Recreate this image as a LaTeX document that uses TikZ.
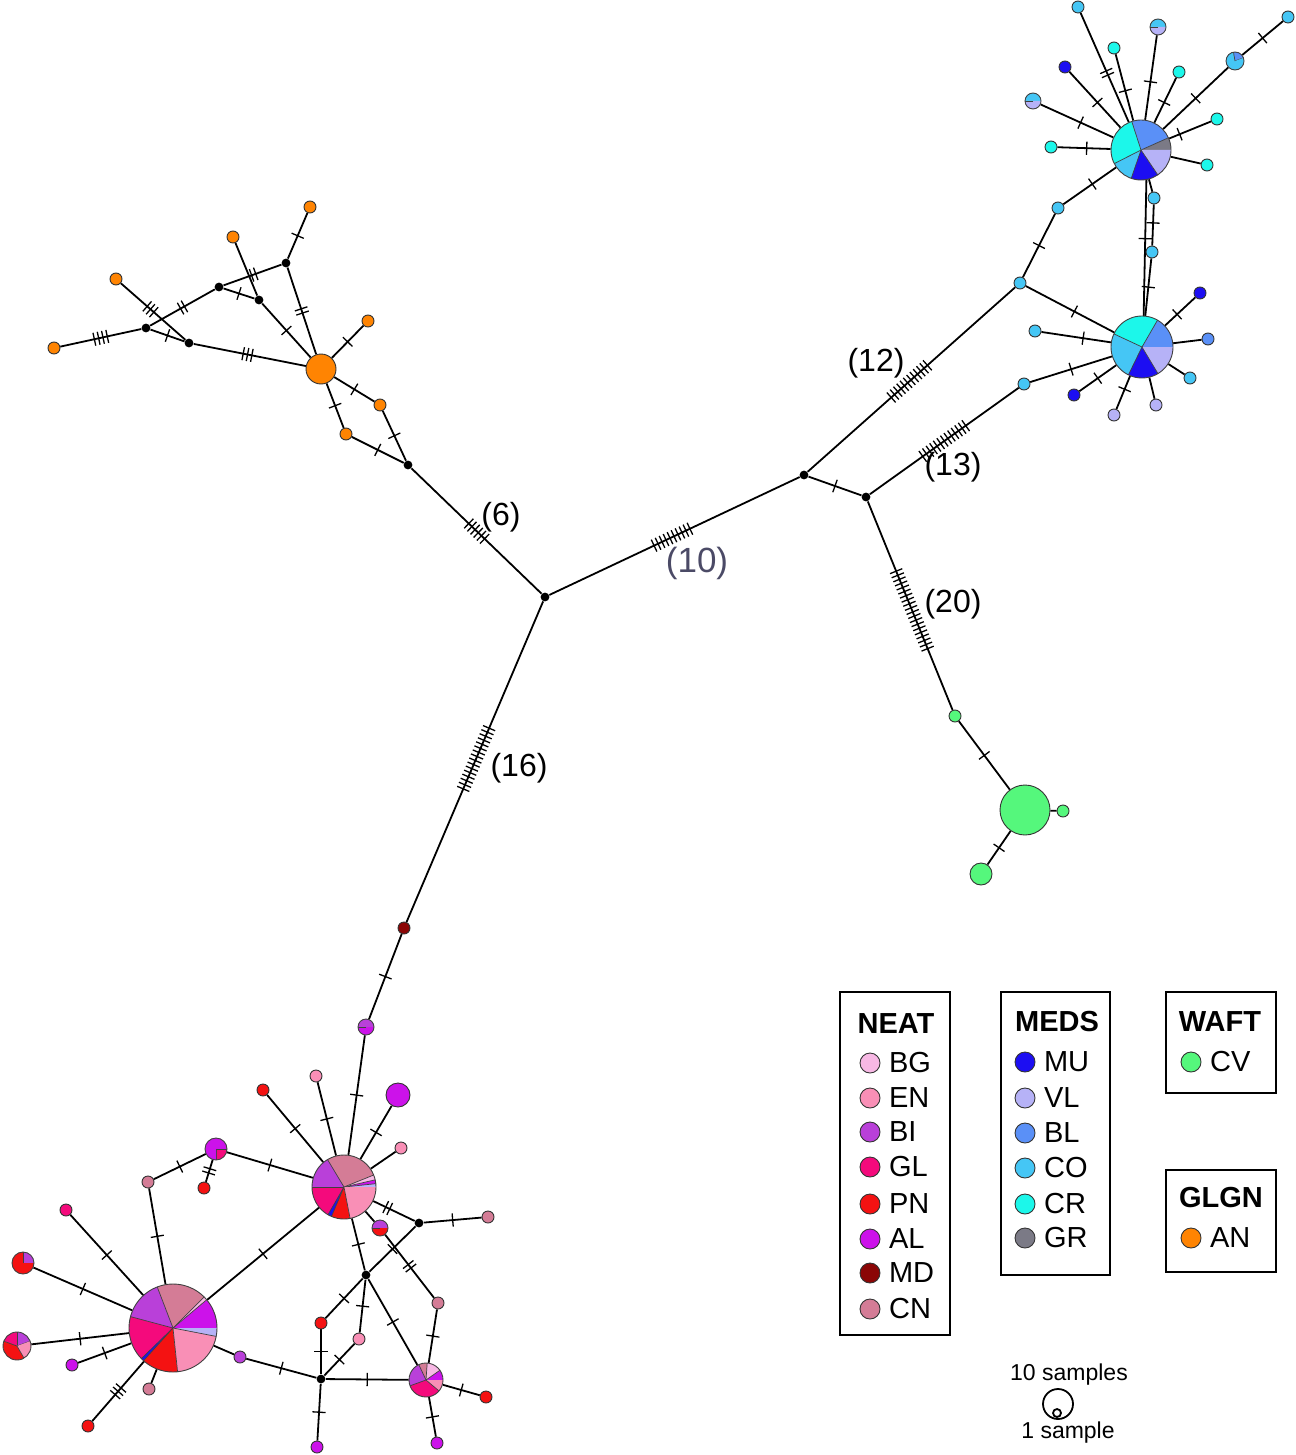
\documentclass[tikz,border=0pt]{standalone}
\usepackage{fontspec}
\setmainfont{Liberation Sans}
\usetikzlibrary{decorations.markings,backgrounds}
\definecolor{BG}{HTML}{F7B8E4}\definecolor{EN}{HTML}{F98FB6}\definecolor{BI}{HTML}{B940D9}
\definecolor{GL}{HTML}{F40A7C}\definecolor{PN}{HTML}{F41212}\definecolor{AL}{HTML}{CC12EA}
\definecolor{MD}{HTML}{8B0606}\definecolor{CN}{HTML}{D47C96}
\definecolor{MU}{HTML}{1C0EF2}\definecolor{VL}{HTML}{B6B2F7}\definecolor{BL}{HTML}{5A90F7}
\definecolor{CO}{HTML}{45C6F5}\definecolor{CR}{HTML}{1CF7EA}\definecolor{GR}{HTML}{7B7A86}
\definecolor{CV}{HTML}{55F77C}\definecolor{AN}{HTML}{FF8402}\definecolor{labten}{HTML}{4B4A66}
\newcommand\piech[3]{\foreach \a/\b/\c in {#3}{\fill[\c] (#1.center) -- ++(\a:#2) arc[start angle=\a,end angle=\b,radius=#2] -- cycle; \draw[line width=0.35pt,black!75] (#1.center) -- ++(\a:#2);}\draw[line width=0.45pt,black!75] (#1.center) circle[radius=#2];}
\newcommand\E[4]{\draw[edge,tk={#3}{#4}] (#1) -- (#2);}
\newcommand\F[2]{\draw[edge] (#1) -- (#2);}
\begin{document}
\begin{tikzpicture}[x=0.5pt,y=-0.5pt,
 hap/.style={circle,draw=black!80,line width=0.45pt,inner sep=0pt,minimum size=6pt,fill=#1},
 pienode/.style={circle,inner sep=0pt,minimum size=#1},
 jn/.style={circle,fill=black,inner sep=0pt,minimum size=4.4pt},
 edge/.style={line width=0.9pt},
 tk/.style 2 args={postaction={decorate,decoration={markings,mark=at position #1 with {\foreach \k in {1,...,#2}{\draw[line width=0.65pt] ({(\k-(#2+1)/2)*2.2pt},-3.3pt) -- ++(0,6.6pt);}}}}},
 lab/.style={font=\fontsize{16}{19}\selectfont},
 leg/.style={font=\fontsize{14.5}{16}\selectfont,anchor=west},
 legt/.style={font=\bfseries\fontsize{14.5}{16}\selectfont},
 box/.style={draw,line width=1.2pt}]
\useasboundingbox (0,0) rectangle (1295,1455);
\node[jn] (J1) at (545,597) {}; \node[jn] (J2) at (804,475) {}; \node[jn] (J3) at (866,497) {};
\node[jn] (b6) at (408,465) {};
\node[hap=AN,minimum size=15pt] (O) at (321,369) {};
\node[hap=AN] (o1) at (310,207) {}; \node[hap=AN] (o2) at (233,237) {}; \node[hap=AN] (o3) at (116,279) {};
\node[hap=AN] (o4) at (54,348) {}; \node[hap=AN] (o5) at (368,321) {}; \node[hap=AN] (o6) at (380,405) {};
\node[hap=AN] (o7) at (346,434) {};
\node[jn] (b1) at (286,263) {}; \node[jn] (b2) at (219,287) {}; \node[jn] (b3) at (259,300) {};
\node[jn] (b4) at (146,328) {}; \node[jn] (b5) at (189,343) {};
\node[hap=CO] (c1) at (1024,384) {}; \node[hap=CO] (c2) at (1020,283) {}; \node[hap=CO] (c3) at (1058,208) {};
\node[hap=CO] (c4) at (1154,198) {}; \node[hap=CO] (c5) at (1152,252) {};
\node[pienode=30pt] (H1) at (1141,150) {}; \node[pienode=31pt] (H2) at (1142,347) {};
\node[hap=CO] (t1) at (1078,7) {}; \node[hap=CR] (t2) at (1114,48) {}; \node[hap=MU] (t3) at (1065,67) {};
\node[pienode=8pt] (t4) at (1033,101) {}; \node[hap=CR] (t5) at (1051,147) {};
\node[pienode=8pt] (t6) at (1158,27) {}; \node[hap=CR] (t7) at (1179,72) {};
\node[pienode=9pt] (t8) at (1235,61) {}; \node[hap=CO] (t9) at (1288,17) {};
\node[hap=CR] (t10) at (1217,119) {}; \node[hap=CR] (t11) at (1207,165) {};
\node[hap=MU] (s1) at (1200,293) {}; \node[hap=BL] (s2) at (1208,339) {}; \node[hap=CO] (s3) at (1035,331) {};
\node[hap=MU] (s4) at (1074,395) {}; \node[hap=VL] (s5) at (1114,415) {}; \node[hap=VL] (s6) at (1156,405) {};
\node[hap=CO] (s7) at (1190,378) {};
\node[hap=CV] (g1) at (955,716) {}; \node[hap=CV,minimum size=25pt] (G) at (1025,810) {};
\node[hap=CV] (g2) at (1063,811) {}; \node[hap=CV,minimum size=11pt] (g3) at (981,874) {};
\node[hap=MD] (md) at (404,928) {}; \node[pienode=8pt] (al1) at (366,1027) {};
\node[pienode=32pt] (P1) at (344,1187) {}; \node[pienode=44pt] (P2) at (173,1328) {};
\node[pienode=17pt] (P3) at (426,1380) {};
\node[hap=PN] (n1) at (263,1090) {}; \node[hap=EN] (n2) at (316,1076) {};
\node[hap=AL,minimum size=12pt] (n3) at (398,1095) {}; \node[hap=EN] (n4) at (401,1148) {};
\node[jn] (k1) at (419,1223) {}; \node[hap=CN] (n5) at (488,1217) {};
\node[pienode=8pt] (hc) at (380,1228) {}; \node[hap=CN] (n6) at (438,1303) {};
\node[jn] (k2) at (366,1275) {}; \node[hap=PN] (n7) at (321,1323) {}; \node[hap=EN] (n8) at (359,1339) {};
\node[jn] (k3) at (321,1379) {}; \node[hap=AL] (n9) at (317,1447) {}; \node[hap=BI] (n10) at (240,1357) {};
\node[hap=PN] (n11) at (486,1397) {}; \node[hap=AL] (n12) at (437,1443) {};
\node[hap=CN] (n13) at (148,1182) {}; \node[pienode=11pt] (q1) at (216,1149) {};
\node[hap=PN] (n14) at (204,1188) {}; \node[hap=GL] (n15) at (66,1210) {};
\node[pienode=11pt] (q2) at (23,1263) {}; \node[pienode=14pt] (q3) at (17,1346) {};
\node[hap=AL] (n16) at (72,1365) {}; \node[hap=CN] (n17) at (149,1389) {}; \node[hap=PN] (n18) at (88,1426) {};
\begin{pgfonlayer}{background}
\E{J1}{b6}{.5}{6} \E{b6}{o6}{.5}{1} \E{b6}{o7}{.5}{1} \E{o6}{O}{.5}{1} \E{o7}{O}{.5}{1}
\E{O}{o5}{.5}{1} \E{O}{b1}{.5}{2} \E{b1}{o1}{.5}{1} \E{b1}{b2}{.48}{2} \E{b2}{b3}{.5}{1}
\F{o2}{b3} \E{b3}{O}{.5}{1} \E{b2}{b4}{.5}{2} \E{b4}{o4}{.5}{4} \E{b4}{b5}{.5}{1}
\E{o3}{b5}{.46}{3} \E{b5}{O}{.48}{3}
\E{J1}{J2}{.49}{10} \E{J2}{J3}{.5}{1} \E{J3}{c1}{.5}{13} \E{J2}{c2}{.49}{12}
\E{c2}{c3}{.5}{1} \E{c3}{H1}{.55}{1} \E{c2}{H2}{.55}{1} \E{H2}{c1}{.5}{1}
\F{H1}{c4} \E{c4}{c5}{.45}{1} \E{c5}{H2}{.5}{1}
\draw[edge,tk={.45}{1}] ([xshift=3pt]H1.center) -- ([xshift=0.5pt]H2.center);
\E{t1}{H1}{.55}{2} \E{t2}{H1}{.55}{1} \E{t3}{H1}{.55}{1} \E{t4}{H1}{.55}{1} \E{t5}{H1}{.55}{1}
\E{t6}{H1}{.55}{1} \E{t7}{H1}{.55}{1} \E{t8}{H1}{.5}{1} \E{t9}{t8}{.5}{1} \E{t10}{H1}{.75}{1} \F{t11}{H1}
\E{s1}{H2}{.6}{1} \F{s2}{H2} \E{s3}{H2}{.6}{1} \E{s4}{H2}{.5}{1} \E{s5}{H2}{.6}{1} \F{s6}{H2} \F{s7}{H2}
\E{J3}{g1}{.52}{20} \E{g1}{G}{.5}{1} \F{G}{g2} \E{G}{g3}{.5}{1}
\E{J1}{md}{.49}{16} \E{md}{al1}{.5}{1} \E{al1}{P1}{.5}{1}
\E{P1}{n1}{.5}{1} \E{P1}{n2}{.5}{1} \E{P1}{n3}{.5}{1} \F{P1}{n4} \E{P1}{k1}{.35}{2} \E{k1}{n5}{.5}{1}
\F{P1}{hc} \E{hc}{n6}{.5}{2} \E{P1}{k2}{.5}{1} \E{k2}{k1}{.5}{1} \E{k2}{n7}{.5}{1} \E{k2}{n8}{.5}{1}
\E{k2}{P3}{.5}{1} \E{n7}{k3}{.5}{1} \E{n8}{k3}{.5}{1} \E{k3}{P3}{.5}{1} \E{k3}{n9}{.5}{1} \E{k3}{n10}{.5}{1}
\E{n6}{P3}{.5}{1} \E{P3}{n11}{.5}{1} \E{P3}{n12}{.5}{1}
\E{P2}{P1}{.5}{1} \F{P2}{n10} \E{P2}{n13}{.5}{1} \E{n13}{q1}{.5}{1} \E{q1}{P1}{.5}{1} \E{q1}{n14}{.5}{2}
\E{P2}{n15}{.5}{1} \E{P2}{q2}{.5}{1} \E{P2}{q3}{.5}{1} \E{P2}{n16}{.5}{1} \F{P2}{n17} \E{P2}{n18}{.5}{3}
\end{pgfonlayer}
\piech{H1}{15pt}{0/24/GR,24/108/BL,108/207/CR,207/251/CO,251/304/MU,304/360/VL}
\piech{H2}{15.5pt}{0/60/BL,60/155/CR,155/244/CO,244/301/MU,301/360/VL}
\piech{t4}{4pt}{0/180/CO,180/360/VL}
\piech{t6}{4pt}{0/180/CO,180/360/VL}
\piech{t8}{4.5pt}{20/100/BL,100/380/CO}
\piech{al1}{4pt}{0/180/BI,180/360/AL}
\piech{hc}{4pt}{0/180/BI,180/360/PN}
\piech{q1}{5.5pt}{-90/0/GL,0/270/AL}
\piech{q2}{5.5pt}{0/90/BI,90/360/PN}
\piech{q3}{7pt}{20/90/BI,90/160/GL,160/300/PN,300/380/EN}
\piech{P1}{16pt}{0/6/VL,6/13/AL,13/22/BG,22/121/CN,121/180/BI,180/240/GL,240/247/MU,247/281/PN,281/360/EN}
\piech{P2}{22pt}{0/40/AL,40/45/BG,45/111/CN,111/165/BI,165/224/GL,224/228/MU,228/276/PN,276/349/EN,349/360/VL}
\piech{P3}{8.5pt}{0/35/AL,35/86/BG,86/115/CN,115/200/BI,200/320/GL,320/360/EN}
\node[lab] (l6) at (501,517) {(6)};
\node[lab,text=labten,font=\fontsize{17.5}{20}\selectfont] (l10) at (697,563) {(10)};
\node[lab] (l12) at (876,363) {(12)};
\node[lab] (l13) at (953,467) {(13)};
\node[lab] (l20) at (953,604) {(20)};
\node[lab] (l16) at (519,768) {(16)};
\draw[box] (840,992) rectangle (950,1335);
\node[legt] (tn) at (896,1024) {NEAT};
\foreach \c/\y [count=\i] in {BG/1063,EN/1098,BI/1132,GL/1167,PN/1204,AL/1239,MD/1273,CN/1309}{
 \node[hap=\c,minimum size=10pt] (ln\i) at (870,\y) {}; \node[leg] (lt\i) at (882,\y) {\c};}
\draw[box] (1001,992) rectangle (1110,1275);
\node[legt] (tm) at (1057,1022) {MEDS};
\foreach \c/\y [count=\i] in {MU/1062,VL/1098,BL/1133,CO/1168,CR/1204,GR/1238}{
 \node[hap=\c,minimum size=10pt] (lm\i) at (1025,\y) {}; \node[leg] (lu\i) at (1037,\y) {\c};}
\draw[box] (1166,992) rectangle (1276,1093);
\node[legt] (tw) at (1220,1022) {WAFT};
\node[hap=CV,minimum size=10pt] (lw) at (1191,1062) {}; \node[leg] (lwt) at (1203,1062) {CV};
\draw[box] (1166,1170) rectangle (1276,1272);
\node[legt] (tg) at (1221,1198) {GLGN};
\node[hap=AN,minimum size=10pt] (lg) at (1191,1238) {}; \node[leg] (lgt) at (1203,1238) {AN};
\node[font=\fontsize{11.5}{13}\selectfont] (s10) at (1069,1375) {10 samples};
\draw[line width=0.9pt] (1058,1404) circle[radius=7.5pt];
\draw[line width=0.9pt] (1057,1413) circle[radius=2pt];
\node[font=\fontsize{11.5}{13}\selectfont] (s1l) at (1068,1433) {1 sample};
\end{tikzpicture}
\end{document}
